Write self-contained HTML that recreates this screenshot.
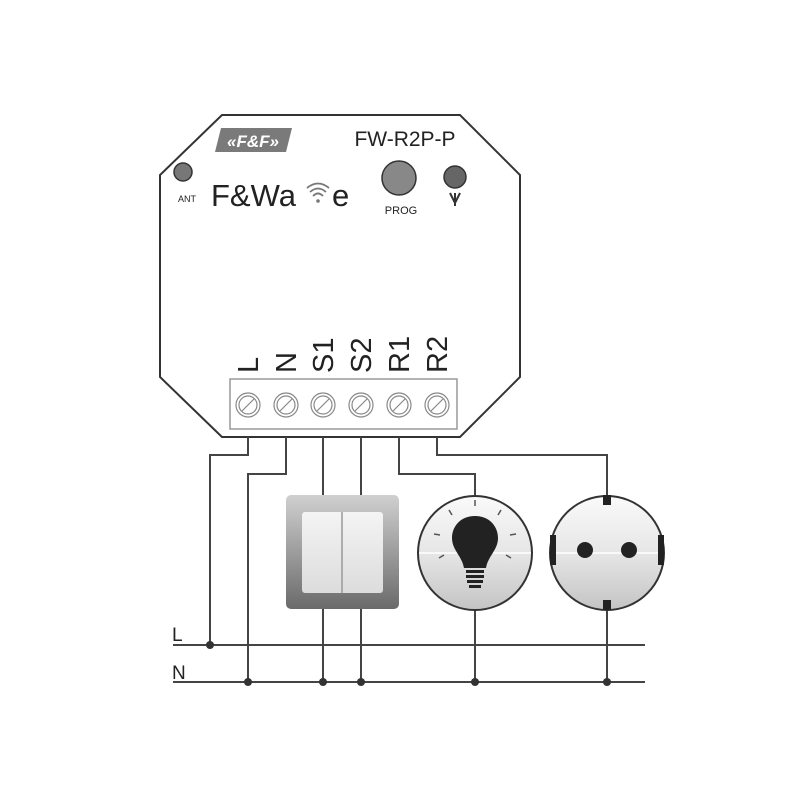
<!DOCTYPE html>
<html><head><meta charset="utf-8"><style>
body{margin:0;background:#fff}
svg{display:block}
text{font-family:"Liberation Sans",sans-serif;fill:#222}
</style></head><body>
<svg width="800" height="800" viewBox="0 0 800 800">
<defs>
<linearGradient id="sw" x1="0" y1="0" x2="0" y2="1"><stop offset="0" stop-color="#d0d0d0"/><stop offset="1" stop-color="#6a6a6a"/></linearGradient>
<linearGradient id="swi" x1="0" y1="0" x2="0" y2="1"><stop offset="0" stop-color="#f4f4f4"/><stop offset="1" stop-color="#dcdcdc"/></linearGradient>
<linearGradient id="cg" x1="0" y1="0" x2="0" y2="1"><stop offset="0" stop-color="#fafafa"/><stop offset="0.5" stop-color="#e6e6e6"/><stop offset="1" stop-color="#c4c4c4"/></linearGradient>
</defs>
<polygon points="222,115 460,115 520,175 520,377 460,437 222,437 160,377 160,175" fill="#fff" stroke="#333" stroke-width="2"/>
<polygon points="221,128 292,128 286,152 215,152" fill="#7a7a7a"/>
<text x="253" y="147" font-size="17" font-weight="bold" text-anchor="middle" style="fill:#fff;font-style:italic">«F&amp;F»</text>
<text x="405" y="146" font-size="21" text-anchor="middle">FW-R2P-P</text>
<circle cx="183" cy="172" r="9" fill="#777" stroke="#333" stroke-width="1.5"/>
<text x="178" y="202" font-size="9">ANT</text>
<text x="211" y="206" font-size="31">F&amp;Wa</text>
<g stroke="#777" stroke-width="1.8" fill="none">
<path d="M310,192 Q318,185 326,192"/><path d="M313,196 Q318,191 323,196"/></g>
<g stroke="#777" stroke-width="1.8" fill="none"><path d="M307,188 Q318,179 329,188"/></g>
<circle cx="318" cy="201" r="1.8" fill="#777"/>
<text x="332" y="206" font-size="31">e</text>
<circle cx="399" cy="178" r="17" fill="#888" stroke="#333" stroke-width="1.5"/>
<text x="401" y="214" font-size="11" text-anchor="middle">PROG</text>
<circle cx="455" cy="177" r="11" fill="#666" stroke="#333" stroke-width="1.5"/>
<path d="M450,193 L455,203 L460,193 M455,193 V206" stroke="#333" stroke-width="2" fill="none"/>
<g font-size="29">
<text transform="translate(258,373) rotate(-90)">L</text>
<text transform="translate(296,373) rotate(-90)">N</text>
<text transform="translate(333,373) rotate(-90)">S1</text>
<text transform="translate(371,373) rotate(-90)">S2</text>
<text transform="translate(409,373) rotate(-90)">R1</text>
<text transform="translate(447,373) rotate(-90)">R2</text>
</g>
<rect x="230" y="379" width="227" height="50" fill="#fff" stroke="#999" stroke-width="1.5"/>
<g stroke="#888" fill="none" stroke-width="1.2">
<circle cx="248" cy="405" r="12"/><circle cx="248" cy="405" r="9"/><line x1="242" y1="411" x2="254" y2="399"/>
<circle cx="286" cy="405" r="12"/><circle cx="286" cy="405" r="9"/><line x1="280" y1="411" x2="292" y2="399"/>
<circle cx="323" cy="405" r="12"/><circle cx="323" cy="405" r="9"/><line x1="317" y1="411" x2="329" y2="399"/>
<circle cx="361" cy="405" r="12"/><circle cx="361" cy="405" r="9"/><line x1="355" y1="411" x2="367" y2="399"/>
<circle cx="399" cy="405" r="12"/><circle cx="399" cy="405" r="9"/><line x1="393" y1="411" x2="405" y2="399"/>
<circle cx="437" cy="405" r="12"/><circle cx="437" cy="405" r="9"/><line x1="431" y1="411" x2="443" y2="399"/>
</g>
<g stroke="#444" stroke-width="2" fill="none">
<polyline points="248,437 248,455 210,455 210,645"/>
<polyline points="286,437 286,474 248,474 248,682"/>
<line x1="323" y1="437" x2="323" y2="682"/>
<line x1="361" y1="437" x2="361" y2="682"/>
<polyline points="399,437 399,474 475,474 475,682"/>
<polyline points="437,437 437,455 607,455 607,682"/>
<line x1="173" y1="645" x2="645" y2="645"/>
<line x1="173" y1="682" x2="645" y2="682"/>
</g>
<g fill="#333">
<circle cx="210" cy="645" r="4"/><circle cx="248" cy="682" r="4"/><circle cx="323" cy="682" r="4"/><circle cx="361" cy="682" r="4"/><circle cx="475" cy="682" r="4"/><circle cx="607" cy="682" r="4"/>
</g>
<text x="172" y="641" font-size="19">L</text>
<text x="172" y="679" font-size="19">N</text>
<rect x="286" y="495" width="113" height="114" rx="5" fill="url(#sw)"/>
<rect x="302" y="512" width="81" height="81" rx="3" fill="url(#swi)"/>
<line x1="342" y1="512" x2="342" y2="593" stroke="#999" stroke-width="1.5"/>
<circle cx="475" cy="553" r="57" fill="url(#cg)" stroke="#333" stroke-width="2"/>
<line x1="419" y1="553" x2="531" y2="553" stroke="#fff" stroke-width="1.5"/>
<path d="M475,516 C460,516 452,527 452,538 C452,550 462,556 464,568 L486,568 C488,556 498,550 498,538 C498,527 490,516 475,516 Z" fill="#222"/>
<rect x="466" y="570" width="18" height="3" fill="#222"/><rect x="466" y="575" width="18" height="3" fill="#222"/><rect x="467" y="580" width="16" height="3" fill="#222"/><rect x="469" y="585" width="12" height="3" fill="#222"/>
<g stroke="#555" stroke-width="1.5"><line x1="475" y1="500" x2="475" y2="506"/><line x1="449" y1="510" x2="452" y2="515"/><line x1="501" y1="510" x2="498" y2="515"/><line x1="434" y1="534" x2="440" y2="535"/><line x1="516" y1="534" x2="510" y2="535"/><line x1="439" y1="558" x2="444" y2="555"/><line x1="511" y1="558" x2="506" y2="555"/></g>
<circle cx="607" cy="553" r="57" fill="url(#cg)" stroke="#333" stroke-width="2"/>
<line x1="551" y1="553" x2="663" y2="553" stroke="#fff" stroke-width="1.5"/>
<circle cx="585" cy="550" r="8" fill="#222"/><circle cx="629" cy="550" r="8" fill="#222"/>
<rect x="603" y="495" width="8" height="10" fill="#222"/><rect x="603" y="600" width="8" height="10" fill="#222"/>
<rect x="550" y="535" width="6" height="30" fill="#222"/><rect x="658" y="535" width="6" height="30" fill="#222"/>
</svg>
</body></html>
